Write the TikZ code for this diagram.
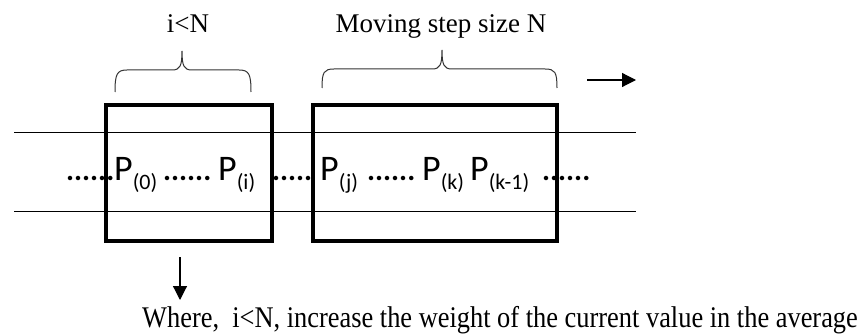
\documentclass[tikz,border=0pt]{standalone}
\usepackage{fontspec}
\setmainfont{Liberation Serif}
\newfontfamily\pfont{Carlito}
\usetikzlibrary{arrows.meta}

\newcommand{\Pidx}[1]{P\raisebox{-9pt}{\fontsize{22}{22}\selectfont(#1)}}

\begin{document}
\begin{tikzpicture}[x=1pt,y=-1pt,
    lbl/.style={font=\fontsize{27}{30}\selectfont, anchor=base, inner sep=0pt},
    pval/.style={font=\pfont\fontsize{36}{38}\selectfont, anchor=base west, inner sep=0pt},
    dotrow/.style={font=\pfont\bfseries\fontsize{30}{30}\selectfont, anchor=base west, inner sep=0pt},
    win/.style={line width=3.5pt, line join=miter},
    brc/.style={line width=1pt, black!80},
    arr/.style={line width=1.2pt, -{Triangle[length=14pt,width=14pt]}}]

      \useasboundingbox (0,0) rectangle (863,334);

      % 1. the two lines that carry the sequence
      \coordinate (TL) at (14,133);
      \coordinate (TR) at (636,133);
      \coordinate (BL) at (14,212);
      \coordinate (BR) at (636,212);
      \draw[line width=1pt] (TL) -- (TR);
      \draw[line width=1pt] (BL) -- (BR);

      % 2. the values P and the dots between them
      \node[dotrow] (d1) at (66,181) {......};
      \node[pval] (p0) at (114,181) {\Pidx{0}};
      \node[dotrow] (d2) at (163,181) {......};
      \node[pval] (pi) at (218,181) {\Pidx{i}};
      \node[dotrow] (d3) at (272,181) {.....};
      \node[pval] (pj) at (320,181) {\Pidx{j}};
      \node[dotrow] (d4) at (367,181) {......};
      \node[pval] (pk) at (422,181) {\Pidx{k}};
      \node[pval] (pk1) at (470,181) {\Pidx{k-1}};
      \node[dotrow] (d5) at (542,181) {......};

      % 3. the two windows
      \draw[win] (106,105) rectangle (272,241);
      \draw[win] (313,105) rectangle (557,241);

      % 4. the braces over the windows
      \draw[brc] (115,92) .. controls (115,74) and (117,70) .. (127,70) -- (172,70)
        .. controls (180,70) and (182,66) .. (182,51)
        .. controls (182,66) and (184,70) .. (192,70) -- (239,70)
        .. controls (249,70) and (251,74) .. (251,92);
      \draw[brc] (322,88) .. controls (322,72) and (324,69) .. (334,69) -- (432,69)
        .. controls (440,69) and (442,65) .. (442,50)
        .. controls (442,65) and (444,69) .. (452,69) -- (545,69)
        .. controls (555,69) and (557,72) .. (557,88);
      \node[lbl] (lt) at (188,33) {i<N};
      \node[lbl] (mv) at (441,33) {Moving step size N};

      % 5. moving direction
      \coordinate (m0) at (587,80);
      \coordinate (m1) at (636,80);
      \draw[arr] (m0) -- (m1);

      % 6. the note below
      \coordinate (n0) at (180,257);
      \coordinate (n1) at (180,300);
      \draw[arr] (n0) -- (n1);
      \node[lbl, font=\fontsize{30}{34}\selectfont] (note) at (500,327)
        {\scalebox{0.88}[1]{Where,\ \ i<N, increase the weight of the current value in the average}};
\end{tikzpicture}
\end{document}
